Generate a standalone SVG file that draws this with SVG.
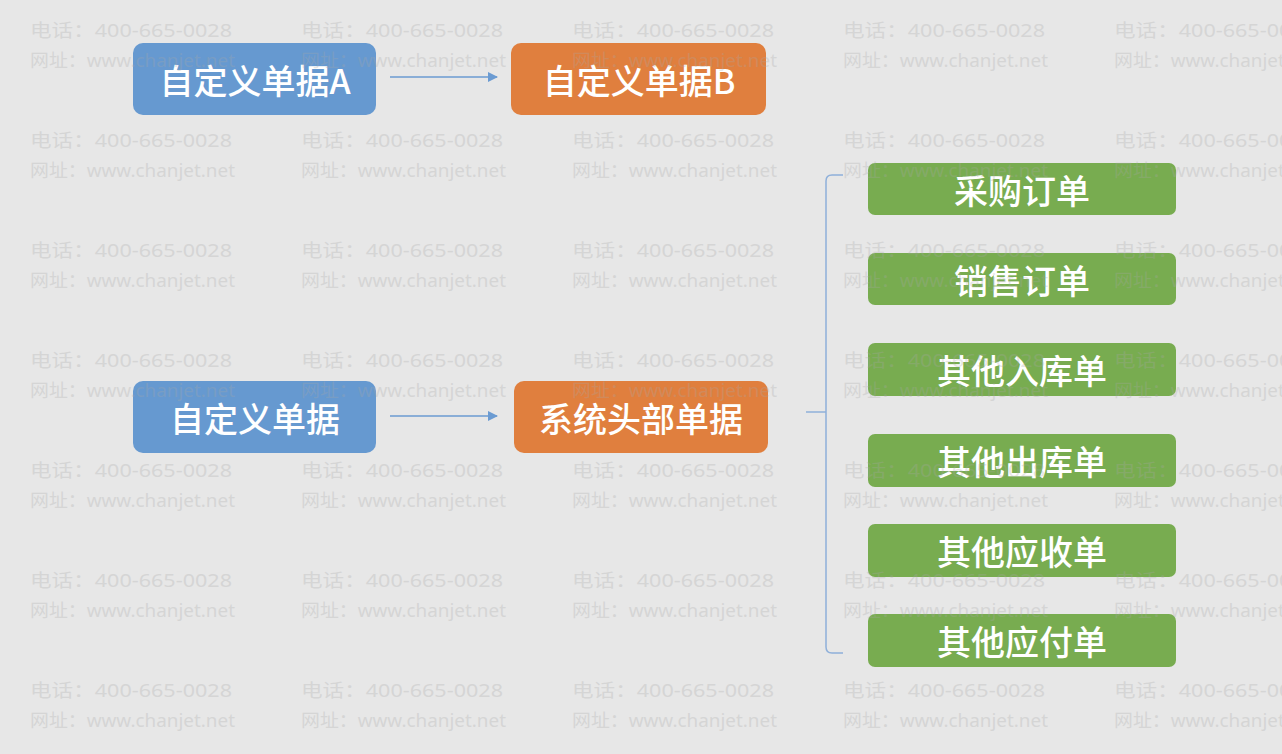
<svg xmlns="http://www.w3.org/2000/svg" width="1282" height="754" viewBox="0 0 1282 754">
<defs>
<style>
.bg{fill:#e7e7e7}
.wm{font-family:"Noto Sans","Noto Sans CJK SC",sans-serif;font-size:18px;fill:#a8a8a8;opacity:0.28}
.lbl{font-family:"Noto Sans CJK SC","Noto Sans",sans-serif;font-size:34px;font-weight:500;fill:#ffffff;text-anchor:middle;dominant-baseline:central}
.blue{fill:#6699d0}
.orange{fill:#e07f3e}
.green{fill:#78ac50}
.edge{stroke:#6b9bd2;stroke-width:1.5;fill:none}
.brace{stroke:#8fb0da;stroke-width:1.5;fill:none}
</style>
<marker id="ah" markerWidth="10" markerHeight="10" refX="9" refY="5" orient="auto" markerUnits="userSpaceOnUse">
<path d="M0,0 L10,5 L0,10 Z" fill="#6b9bd2"/>
</marker>
</defs>
<rect class="bg" x="0" y="0" width="1282" height="754"/>

<g id="connectors">
<line class="edge" x1="390" y1="77" x2="497" y2="77" marker-end="url(#ah)"/>
<line class="edge" x1="390" y1="416" x2="497" y2="416" marker-end="url(#ah)"/>
<path class="brace" d="M843,175 L832,175 Q826,175 826,181 L826,647 Q826,653 832,653 L843,653"/>
<line class="brace" x1="806" y1="412" x2="826" y2="412"/>
</g>

<g id="nodeA"><rect class="blue" x="133" y="43" width="243" height="72" rx="10"/><text class="lbl" x="255" y="79">自定义单据A</text></g>
<g id="nodeB"><rect class="orange" x="511" y="43" width="255" height="72" rx="10"/><text class="lbl" x="639" y="79">自定义单据B</text></g>
<g id="nodeC"><rect class="blue" x="133" y="381" width="243" height="72" rx="10"/><text class="lbl" x="255" y="417">自定义单据</text></g>
<g id="nodeD"><rect class="orange" x="514" y="381" width="254" height="72" rx="10"/><text class="lbl" x="641" y="417">系统头部单据</text></g>

<g id="g1"><rect class="green" x="868" y="163" width="308" height="52" rx="7"/><text class="lbl" x="1022" y="189">采购订单</text></g>
<g id="g2"><rect class="green" x="868" y="253" width="308" height="52" rx="7"/><text class="lbl" x="1022" y="279">销售订单</text></g>
<g id="g3"><rect class="green" x="868" y="343" width="308" height="53" rx="7"/><text class="lbl" x="1022" y="369">其他入库单</text></g>
<g id="g4"><rect class="green" x="868" y="434" width="308" height="53" rx="7"/><text class="lbl" x="1022" y="460">其他出库单</text></g>
<g id="g5"><rect class="green" x="868" y="524" width="308" height="53" rx="7"/><text class="lbl" x="1022" y="550">其他应收单</text></g>
<g id="g6"><rect class="green" x="868" y="614" width="308" height="53" rx="7"/><text class="lbl" x="1022" y="640">其他应付单</text></g>

<g id="watermark" class="wm">
<text x="30" y="37" textLength="202" lengthAdjust="spacingAndGlyphs">电话：400-665-0028</text><text x="30" y="67" textLength="205" lengthAdjust="spacingAndGlyphs">网址：www.chanjet.net</text>
<text x="301" y="37" textLength="202" lengthAdjust="spacingAndGlyphs">电话：400-665-0028</text><text x="301" y="67" textLength="205" lengthAdjust="spacingAndGlyphs">网址：www.chanjet.net</text>
<text x="572" y="37" textLength="202" lengthAdjust="spacingAndGlyphs">电话：400-665-0028</text><text x="572" y="67" textLength="205" lengthAdjust="spacingAndGlyphs">网址：www.chanjet.net</text>
<text x="843" y="37" textLength="202" lengthAdjust="spacingAndGlyphs">电话：400-665-0028</text><text x="843" y="67" textLength="205" lengthAdjust="spacingAndGlyphs">网址：www.chanjet.net</text>
<text x="1114" y="37" textLength="202" lengthAdjust="spacingAndGlyphs">电话：400-665-0028</text><text x="1114" y="67" textLength="205" lengthAdjust="spacingAndGlyphs">网址：www.chanjet.net</text>

<text x="30" y="147" textLength="202" lengthAdjust="spacingAndGlyphs">电话：400-665-0028</text><text x="30" y="177" textLength="205" lengthAdjust="spacingAndGlyphs">网址：www.chanjet.net</text>
<text x="301" y="147" textLength="202" lengthAdjust="spacingAndGlyphs">电话：400-665-0028</text><text x="301" y="177" textLength="205" lengthAdjust="spacingAndGlyphs">网址：www.chanjet.net</text>
<text x="572" y="147" textLength="202" lengthAdjust="spacingAndGlyphs">电话：400-665-0028</text><text x="572" y="177" textLength="205" lengthAdjust="spacingAndGlyphs">网址：www.chanjet.net</text>
<text x="843" y="147" textLength="202" lengthAdjust="spacingAndGlyphs">电话：400-665-0028</text><text x="843" y="177" textLength="205" lengthAdjust="spacingAndGlyphs">网址：www.chanjet.net</text>
<text x="1114" y="147" textLength="202" lengthAdjust="spacingAndGlyphs">电话：400-665-0028</text><text x="1114" y="177" textLength="205" lengthAdjust="spacingAndGlyphs">网址：www.chanjet.net</text>

<text x="30" y="257" textLength="202" lengthAdjust="spacingAndGlyphs">电话：400-665-0028</text><text x="30" y="287" textLength="205" lengthAdjust="spacingAndGlyphs">网址：www.chanjet.net</text>
<text x="301" y="257" textLength="202" lengthAdjust="spacingAndGlyphs">电话：400-665-0028</text><text x="301" y="287" textLength="205" lengthAdjust="spacingAndGlyphs">网址：www.chanjet.net</text>
<text x="572" y="257" textLength="202" lengthAdjust="spacingAndGlyphs">电话：400-665-0028</text><text x="572" y="287" textLength="205" lengthAdjust="spacingAndGlyphs">网址：www.chanjet.net</text>
<text x="843" y="257" textLength="202" lengthAdjust="spacingAndGlyphs">电话：400-665-0028</text><text x="843" y="287" textLength="205" lengthAdjust="spacingAndGlyphs">网址：www.chanjet.net</text>
<text x="1114" y="257" textLength="202" lengthAdjust="spacingAndGlyphs">电话：400-665-0028</text><text x="1114" y="287" textLength="205" lengthAdjust="spacingAndGlyphs">网址：www.chanjet.net</text>

<text x="30" y="367" textLength="202" lengthAdjust="spacingAndGlyphs">电话：400-665-0028</text><text x="30" y="397" textLength="205" lengthAdjust="spacingAndGlyphs">网址：www.chanjet.net</text>
<text x="301" y="367" textLength="202" lengthAdjust="spacingAndGlyphs">电话：400-665-0028</text><text x="301" y="397" textLength="205" lengthAdjust="spacingAndGlyphs">网址：www.chanjet.net</text>
<text x="572" y="367" textLength="202" lengthAdjust="spacingAndGlyphs">电话：400-665-0028</text><text x="572" y="397" textLength="205" lengthAdjust="spacingAndGlyphs">网址：www.chanjet.net</text>
<text x="843" y="367" textLength="202" lengthAdjust="spacingAndGlyphs">电话：400-665-0028</text><text x="843" y="397" textLength="205" lengthAdjust="spacingAndGlyphs">网址：www.chanjet.net</text>
<text x="1114" y="367" textLength="202" lengthAdjust="spacingAndGlyphs">电话：400-665-0028</text><text x="1114" y="397" textLength="205" lengthAdjust="spacingAndGlyphs">网址：www.chanjet.net</text>

<text x="30" y="477" textLength="202" lengthAdjust="spacingAndGlyphs">电话：400-665-0028</text><text x="30" y="507" textLength="205" lengthAdjust="spacingAndGlyphs">网址：www.chanjet.net</text>
<text x="301" y="477" textLength="202" lengthAdjust="spacingAndGlyphs">电话：400-665-0028</text><text x="301" y="507" textLength="205" lengthAdjust="spacingAndGlyphs">网址：www.chanjet.net</text>
<text x="572" y="477" textLength="202" lengthAdjust="spacingAndGlyphs">电话：400-665-0028</text><text x="572" y="507" textLength="205" lengthAdjust="spacingAndGlyphs">网址：www.chanjet.net</text>
<text x="843" y="477" textLength="202" lengthAdjust="spacingAndGlyphs">电话：400-665-0028</text><text x="843" y="507" textLength="205" lengthAdjust="spacingAndGlyphs">网址：www.chanjet.net</text>
<text x="1114" y="477" textLength="202" lengthAdjust="spacingAndGlyphs">电话：400-665-0028</text><text x="1114" y="507" textLength="205" lengthAdjust="spacingAndGlyphs">网址：www.chanjet.net</text>

<text x="30" y="587" textLength="202" lengthAdjust="spacingAndGlyphs">电话：400-665-0028</text><text x="30" y="617" textLength="205" lengthAdjust="spacingAndGlyphs">网址：www.chanjet.net</text>
<text x="301" y="587" textLength="202" lengthAdjust="spacingAndGlyphs">电话：400-665-0028</text><text x="301" y="617" textLength="205" lengthAdjust="spacingAndGlyphs">网址：www.chanjet.net</text>
<text x="572" y="587" textLength="202" lengthAdjust="spacingAndGlyphs">电话：400-665-0028</text><text x="572" y="617" textLength="205" lengthAdjust="spacingAndGlyphs">网址：www.chanjet.net</text>
<text x="843" y="587" textLength="202" lengthAdjust="spacingAndGlyphs">电话：400-665-0028</text><text x="843" y="617" textLength="205" lengthAdjust="spacingAndGlyphs">网址：www.chanjet.net</text>
<text x="1114" y="587" textLength="202" lengthAdjust="spacingAndGlyphs">电话：400-665-0028</text><text x="1114" y="617" textLength="205" lengthAdjust="spacingAndGlyphs">网址：www.chanjet.net</text>

<text x="30" y="697" textLength="202" lengthAdjust="spacingAndGlyphs">电话：400-665-0028</text><text x="30" y="727" textLength="205" lengthAdjust="spacingAndGlyphs">网址：www.chanjet.net</text>
<text x="301" y="697" textLength="202" lengthAdjust="spacingAndGlyphs">电话：400-665-0028</text><text x="301" y="727" textLength="205" lengthAdjust="spacingAndGlyphs">网址：www.chanjet.net</text>
<text x="572" y="697" textLength="202" lengthAdjust="spacingAndGlyphs">电话：400-665-0028</text><text x="572" y="727" textLength="205" lengthAdjust="spacingAndGlyphs">网址：www.chanjet.net</text>
<text x="843" y="697" textLength="202" lengthAdjust="spacingAndGlyphs">电话：400-665-0028</text><text x="843" y="727" textLength="205" lengthAdjust="spacingAndGlyphs">网址：www.chanjet.net</text>
<text x="1114" y="697" textLength="202" lengthAdjust="spacingAndGlyphs">电话：400-665-0028</text><text x="1114" y="727" textLength="205" lengthAdjust="spacingAndGlyphs">网址：www.chanjet.net</text>
</g>
</svg>
